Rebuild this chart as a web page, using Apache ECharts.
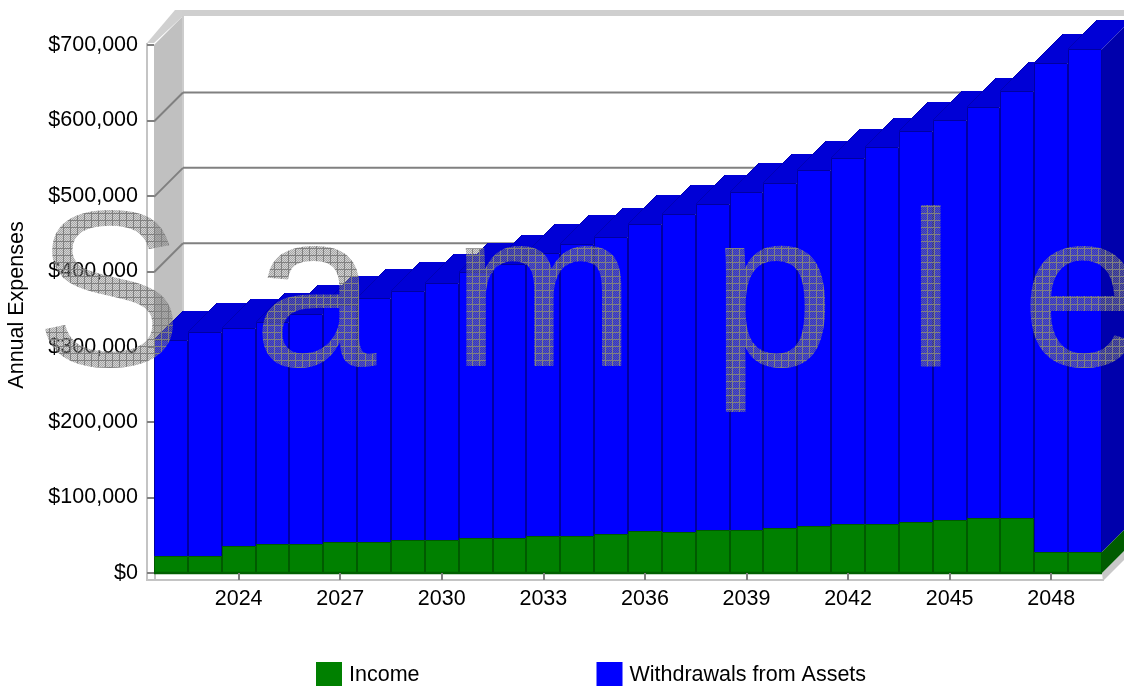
<!DOCTYPE html>
<html>
<head>
<meta charset="utf-8">
<title>Annual Expenses</title>
<style>
html, body { margin: 0; padding: 0; background: #fff; overflow: hidden; }
#chart { width: 1124px; height: 686px; }
</style>
<script src="https://cdn.jsdelivr.net/npm/echarts@6/dist/echarts.min.js"></script>
</head>
<body>
<div id="chart"></div>
<script>
var years = ['2022', '2023', '2024', '2025', '2026', '2027', '2028', '2029', '2030', '2031',
    '2032', '2033', '2034', '2035', '2036', '2037', '2038', '2039', '2040', '2041',
    '2042', '2043', '2044', '2045', '2046', '2047', '2048', '2049'];
var income = [22500, 22500, 35400, 38100, 38100, 41100, 41100, 44300, 44300, 46400,
    46400, 48700, 48700, 52300, 55300, 55000, 56700, 56700, 59700, 62400,
    65600, 65500, 67300, 69900, 73000, 73000, 27500, 27500];
var withdrawals = [286300, 296500, 289300, 295200, 305900, 314100, 323000, 329900, 340500, 352000,
    363200, 375100, 387900, 393800, 407400, 421000, 432500, 448100, 457800, 471600,
    484300, 499800, 518800, 530800, 545400, 566200, 648500, 667100];
var yTicks = [0, 100000, 200000, 300000, 400000, 500000, 600000, 700000];
var watermark = ['S', 'a', 'm', 'p', 'l', 'e'];
var watermarkX = [35, 253, 451, 711, 906, 1021];

var DEPTH = 29;
var FONT = '"Liberation Sans", Arial, sans-serif';
var WATERMARK_FONT = '222px ' + FONT;

var chart = echarts.init(document.getElementById('chart'), null, { renderer: 'canvas' });

// soft grey checker with a grid over it, same as the export watermark
function makeWatermarkFill() {
    var size = 7;
    var c = document.createElement('canvas');
    c.width = size;
    c.height = size;
    var ctx = c.getContext('2d');
    for (var i = 0; i < size; i++) {
        for (var j = 0; j < size; j++) {
            if (i === 0 || j === 0) {
                ctx.fillStyle = '#808080';
            } else {
                ctx.fillStyle = (i + j) % 2 === 0 ? 'rgba(128,128,128,0.7)' : 'rgba(128,128,128,0.35)';
            }
            ctx.fillRect(i, j, 1, 1);
        }
    }
    return ctx.createPattern(c, 'repeat');
}

// zrender only passes string fills to text, so the pattern is set right before the letters are drawn
var watermarkFill = makeWatermarkFill();
var nativeFillText = CanvasRenderingContext2D.prototype.fillText;
CanvasRenderingContext2D.prototype.fillText = function (text, x, y, maxWidth) {
    if (this.font.indexOf('222px') >= 0) {
        this.fillStyle = watermarkFill;
    }
    return maxWidth === undefined ? nativeFillText.call(this, text, x, y) : nativeFillText.call(this, text, x, y, maxWidth);
};

function poly(points, fill) {
    return { type: 'polygon', shape: { points: points }, style: { fill: fill, stroke: null } };
}

function line(x1, y1, x2, y2, color, width) {
    return {
        type: 'line',
        shape: { x1: x1, y1: y1, x2: x2, y2: y2 },
        style: { stroke: color, lineWidth: width }
    };
}

function renderFrame(params, api) {
    var cs = params.coordSys;
    var left = cs.x;
    var right = cs.x + cs.width;
    var top = cs.y;
    var floor = cs.y + cs.height;
    var back = left + DEPTH;
    var children = [
        // side plate and wall
        { type: 'rect', shape: { x: left - 7, y: top - 2, width: 7, height: floor - top + 9 }, style: { fill: '#fff' } },
        poly([[left, top], [back, top - DEPTH], [back, floor - DEPTH], [left, floor]], '#c0c0c0'),
        poly([[left - 7, top - 2], [back - 8, top - DEPTH - 6], [back, top - DEPTH - 6], [back, top - DEPTH], [left, top - 2]], '#d0d0d0'),
        line(back, top - DEPTH, back, floor - DEPTH, '#cccccc', 2),
        { type: 'rect', shape: { x: back - 1, y: top - DEPTH - 6, width: right + DEPTH - back, height: 6 }, style: { fill: '#cfcfcf' } },
        // floor edge
        line(left - 7, top - 2, left - 7, floor + 8, '#c4c4c4', 2),
        line(left - 7, floor + 7, right + 2, floor + 7, '#c4c4c4', 2),
        line(left + 1, floor + 1, left + 1, floor + 7, '#c4c4c4', 2),
        poly([[right, floor], [right + DEPTH, floor - DEPTH], [right + DEPTH, floor - DEPTH + 9], [right + 1, floor + 8]], '#c8c8c8')
    ];
    // grid lines run along the wall and across the back
    yTicks.forEach(function (v) {
        if (v === 0 || v === 700000) {
            return;
        }
        var y = api.coord([0, v])[1];
        children.push(line(left, y + 1, back, y - DEPTH + 1, '#808080', 2));
        children.push(line(back, y - DEPTH + 1, right + DEPTH, y - DEPTH + 1, '#808080', 2));
    });
    return { type: 'group', children: children };
}

function barBox(api) {
    var idx = api.value(0);
    var w = api.size([1, 0])[0];
    var bottom = api.coord([idx, api.value(1)]);
    var top = api.coord([idx, api.value(2)]);
    return {
        x1: Math.round(bottom[0] - w / 2),
        x2: Math.round(bottom[0] + w / 2),
        y1: Math.round(top[1]),
        y2: Math.round(bottom[1])
    };
}

function front(b, fill, stroke) {
    return {
        type: 'rect',
        shape: { x: b.x1 + 0.5, y: b.y1 + 0.5, width: b.x2 - b.x1 - 1, height: b.y2 - b.y1 },
        style: { fill: fill, stroke: stroke, lineWidth: 1 }
    };
}

function renderWithdrawals(params, api) {
    var b = barBox(api);
    return {
        type: 'group',
        children: [
            poly([[b.x1, b.y1], [b.x1 + DEPTH, b.y1 - DEPTH], [b.x2 + DEPTH, b.y1 - DEPTH], [b.x2, b.y1]], '#0000d6'),
            line(b.x1, b.y1, b.x1 + DEPTH, b.y1 - DEPTH, '#0000b4', 1),
            poly([[b.x2, b.y1], [b.x2 + DEPTH, b.y1 - DEPTH], [b.x2 + DEPTH, b.y2 - DEPTH], [b.x2, b.y2]], '#0000ac'),
            front(b, '#0000ff', '#0000a0')
        ]
    };
}

function renderIncome(params, api) {
    var b = barBox(api);
    var children = [];
    // only the last bar shows its green side, the others are covered by the next bar
    if (params.dataIndex === years.length - 1) {
        children.push(poly([[b.x2, b.y1], [b.x2 + DEPTH, b.y1 - DEPTH], [b.x2 + DEPTH, b.y2 - DEPTH], [b.x2, b.y2]], '#005c00'));
    }
    children.push(front(b, '#008000', '#005a00'));
    children.push(line(b.x1, b.y2, b.x2, b.y2, '#006000', 2.5));
    return { type: 'group', children: children };
}

var incomeRows = years.map(function (y, i) {
    return [i, 0, income[i]];
});
var withdrawalRows = years.map(function (y, i) {
    return [i, income[i], income[i] + withdrawals[i]];
});

var option = {
    animation: false,
    backgroundColor: '#fff',
    textStyle: { fontFamily: FONT },
    grid: { left: 154, right: 22, top: 45, height: 528, outerBoundsMode: 'none' },
    legend: {
        data: ['Income', 'Withdrawals from Assets'],
        left: 316,
        top: 662,
        itemWidth: 26,
        itemHeight: 26,
        itemGap: 177,
        padding: 0,
        // swatch is 24 tall, the empty tail keeps the text centred a bit lower
        icon: 'path://M0 0H26V24H0ZM0 26H0Z',
        selectedMode: false,
        textStyle: { fontSize: 21.5, color: '#000', fontFamily: FONT, padding: [0, 0, 0, 2] }
    },
    xAxis: {
        type: 'category',
        data: years,
        z: 3,
        axisLine: { show: false },
        axisTick: {
            show: true,
            alignWithLabel: true,
            length: 7,
            lineStyle: { color: '#808080', width: 2 },
            interval: function (i) { return i % 3 === 2; }
        },
        axisLabel: {
            fontSize: 21.5,
            color: '#000',
            margin: 15,
            fontFamily: FONT,
            interval: function (i) { return i % 3 === 2; }
        }
    },
    yAxis: {
        type: 'value',
        min: 0,
        max: 700000,
        interval: 100000,
        z: 3,
        name: 'Annual Expenses',
        nameLocation: 'middle',
        nameGap: 126,
        nameMoveOverlap: false,
        nameTextStyle: { fontSize: 21.5, color: '#000', fontFamily: FONT, padding: [0, 0, 0, 8] },
        splitLine: { show: false },
        axisLine: { show: false },
        axisTick: { show: true, length: 7, lineStyle: { color: '#808080', width: 2 } },
        axisLabel: {
            fontSize: 21.5,
            color: '#000',
            margin: 16,
            fontFamily: FONT,
            formatter: function (v) { return '$' + v.toLocaleString('en-US'); }
        }
    },
    series: [
        {
            type: 'custom',
            name: 'frame',
            z: 1,
            silent: true,
            renderItem: renderFrame,
            data: [[0, 0]],
            encode: { x: 0, y: 1 }
        },
        {
            type: 'custom',
            name: 'Withdrawals from Assets',
            z: 2,
            silent: true,
            itemStyle: { color: '#0000ff' },
            renderItem: renderWithdrawals,
            data: withdrawalRows,
            encode: { x: 0, y: [1, 2] }
        },
        {
            type: 'custom',
            name: 'Income',
            z: 3,
            silent: true,
            itemStyle: { color: '#008000' },
            renderItem: renderIncome,
            data: incomeRows,
            encode: { x: 0, y: [1, 2] }
        }
    ]
};

chart.setOption(option);

watermark.forEach(function (ch, i) {
    chart.getZr().add(new echarts.graphic.Text({
        z: 20,
        silent: true,
        x: watermarkX[i],
        y: 416,
        style: {
            text: ch,
            fill: '#808081',
            font: WATERMARK_FONT,
            verticalAlign: 'bottom'
        }
    }));
});
</script>
</body>
</html>
